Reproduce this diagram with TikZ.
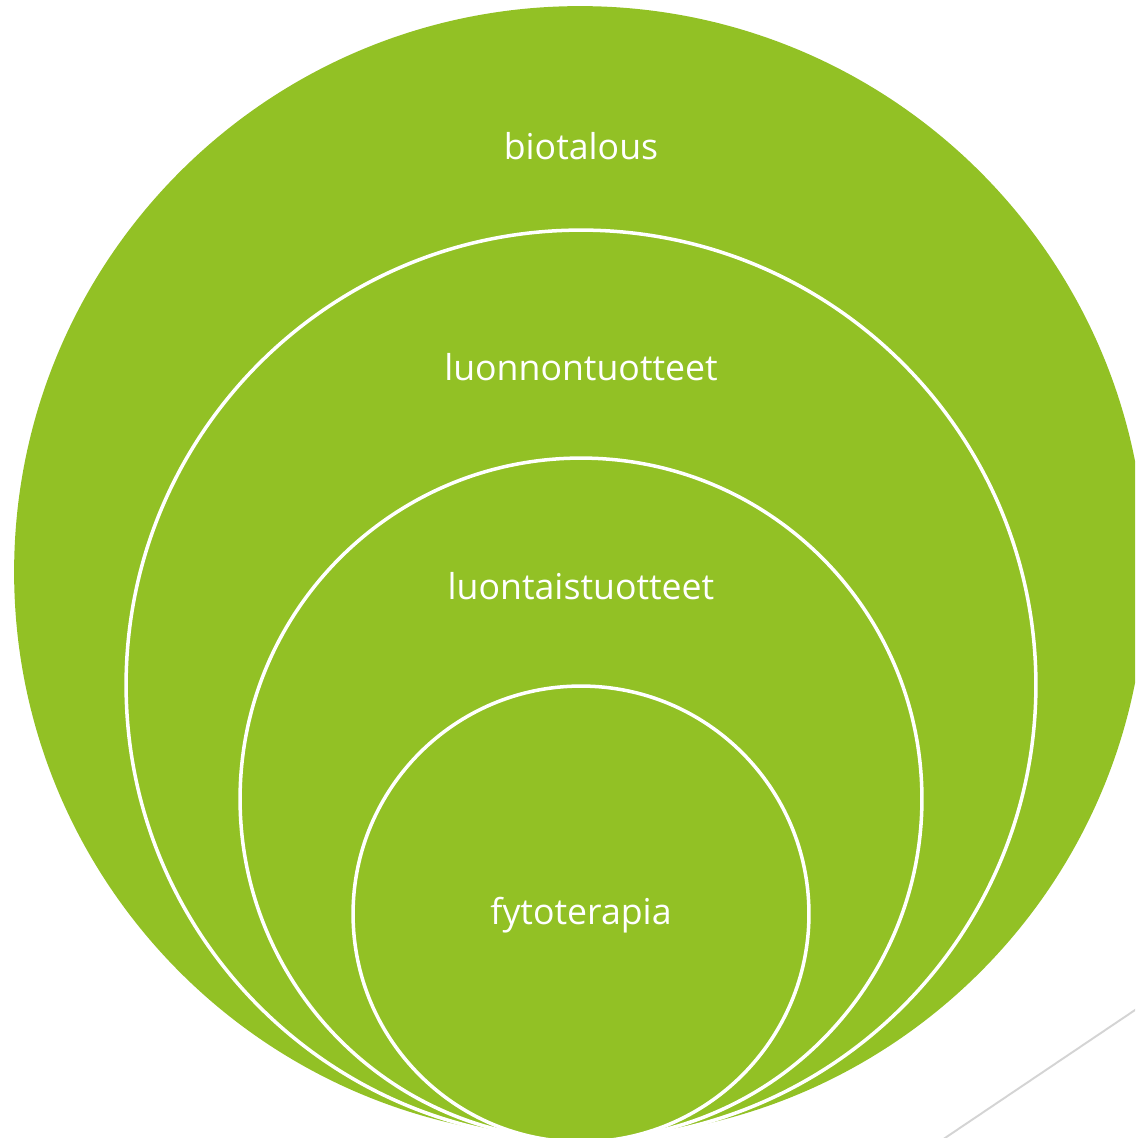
\documentclass[tikz,border=0pt]{standalone}
\usepackage{fontspec}
\setmainfont{Open Sans}
\definecolor{leafgreen}{HTML}{92C125}
\definecolor{rulegray}{HTML}{D4D4D4}
\tikzset{
  ring/.style={draw=white, line width=2pt, fill=leafgreen},
  ringlabel/.style={text=white, font=\fontsize{20.3}{24}\selectfont}
}
\begin{document}
\begin{tikzpicture}[x=0.02cm,y=-0.02cm]
\useasboundingbox (0,0) rectangle (1135,1138);
\begin{scope}
    \clip (0,0) rectangle (1135,1138);
    % circle centres
    \coordinate (bio) at (580,572);
    \coordinate (luonnon) at (581,685);
    \coordinate (luontais) at (581,799);
    \coordinate (fyto) at (581,914);
    % rings
    \fill[leafgreen] (bio) circle[radius=11.32cm];
    \draw[ring] (luonnon) circle[radius=9.1cm];
    \draw[ring] (luontais) circle[radius=6.82cm];
    \draw[ring] (fyto) circle[radius=4.56cm];
    % corner line
    \coordinate (linea) at (942,1140);
    \coordinate (lineb) at (1138,1008);
    \draw[rulegray, line width=1.1pt] (linea) -- (lineb);
\end{scope}
    % labels
    \node[ringlabel] (biotalous) at (581,146) {biotalous};
    \node[ringlabel] (luonnontuotteet) at (581,367) {luonnontuotteet};
    \node[ringlabel] (luontaistuotteet) at (581,586) {luontaistuotteet};
    \node[ringlabel] (fytoterapia) at (581,915) {fytoterapia};
\end{tikzpicture}
\end{document}
